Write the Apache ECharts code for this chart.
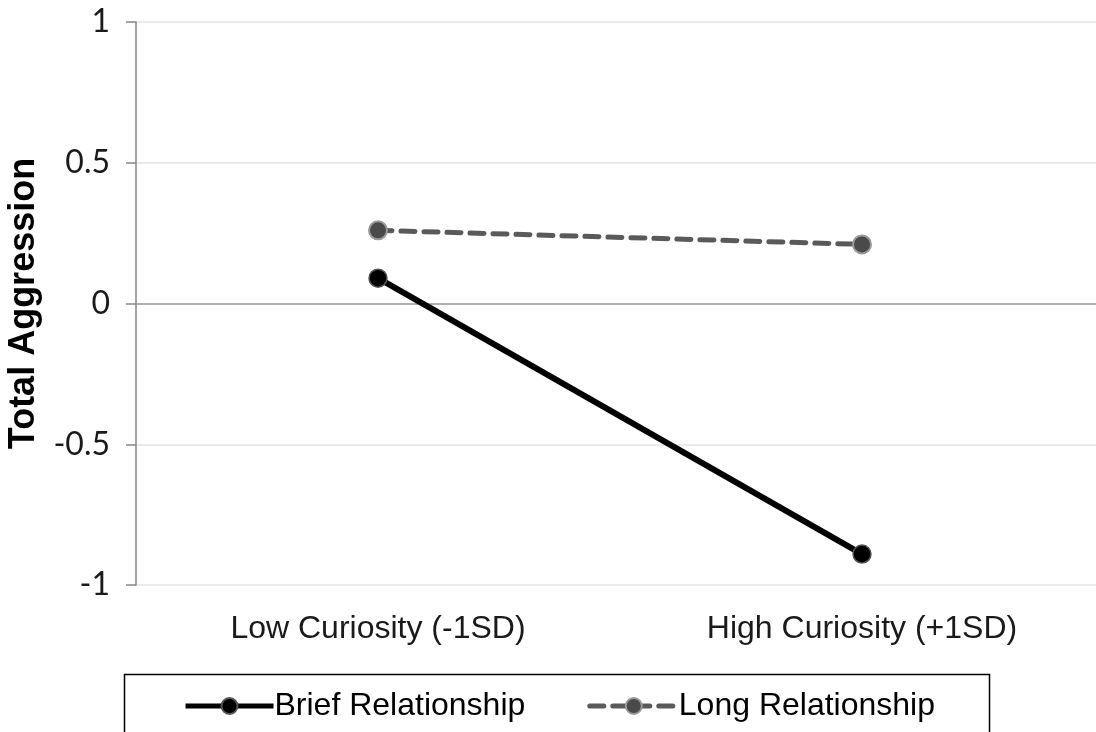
<!DOCTYPE html>
<html><head><meta charset="utf-8">
<script src="https://cdn.jsdelivr.net/npm/echarts@6/dist/echarts.min.js"></script>
<style>html,body{margin:0;padding:0;background:#fff}#c{width:1096px;height:732px}</style>
</head><body><div id="c"></div>
<script>
const categories = ['Low Curiosity (-1SD)', 'High Curiosity (+1SD)'];
const briefValues = [0.09, -0.89];
const longValues = [0.26, 0.21];
const seriesNames = ['Brief Relationship', 'Long Relationship'];
const yTicks = { min: -1, max: 1, interval: 0.5 };

const chart = echarts.init(document.getElementById('c'));
chart.setOption({
  animation: false,
  backgroundColor: '#fff',
  grid: { left: 136, right: -8, top: 22, bottom: 147, containLabel: false, outerBoundsMode: 'none' },
  xAxis: {
    type: 'category', data: categories,
    axisLine: { show: false }, axisTick: { show: false },
    axisLabel: { fontFamily: 'Liberation Sans', fontSize: 32, color: '#1a1a1a', margin: 28 }
  },
  yAxis: {
    type: 'value', min: yTicks.min, max: yTicks.max, interval: yTicks.interval,
    name: 'Total Aggression', nameLocation: 'middle', nameRotate: 90, nameGap: 94,
    nameTextStyle: { fontFamily: 'Liberation Sans', fontWeight: 'bold', fontSize: 36, color: '#000' },
    axisLine: { show: true, lineStyle: { color: '#868686', width: 1.5 } },
    axisTick: { show: true, length: 10, lineStyle: { color: '#868686', width: 1.5 } },
    splitLine: { show: true, lineStyle: { color: '#e4e4e4', width: 1.5 } },
    axisLabel: { fontFamily: 'Lato', fontSize: 32, color: '#1a1a1a', margin: 26,
      formatter: v => String(v) }
  },
  legend: {
    left: 178, top: 685, itemWidth: 88, itemHeight: 20, itemGap: 62,
    textStyle: { fontFamily: 'Liberation Sans', fontSize: 32, color: '#000', padding: [0,0,0,-4] },
    data: [
      { name: seriesNames[0], lineStyle: { width: 5 } },
      { name: seriesNames[1], lineStyle: { width: 5 } }
    ]
  },
  graphic: [{
    type: 'rect', left: 122, top: 672, shape: { width: 865, height: 90 },
    style: { fill: 'none', stroke: '#000', lineWidth: 1.5 }, silent: true, z: -1
  }],
  series: [
    {
      name: seriesNames[0], type: 'line', data: briefValues,
      symbol: 'circle', symbolSize: 18,
      lineStyle: { color: '#000', width: 6 },
      itemStyle: { color: '#000', borderColor: '#555', borderWidth: 1.5 },
      z: 3,
      markLine: {
        silent: true, symbol: 'none', label: { show: false },
        lineStyle: { color: '#9a9a9a', width: 1.5, type: 'solid' },
        data: [{ yAxis: 0 }], z: 1
      }
    },
    {
      name: seriesNames[1], type: 'line', data: longValues,
      symbol: 'circle', symbolSize: 18,
      lineStyle: { color: '#5a5a5a', width: 5, type: [14, 9], cap: 'round' },
      itemStyle: { color: '#4a4a4a', borderColor: '#9a9a9a', borderWidth: 2 },
      z: 2
    }
  ]
});
</script></body></html>
